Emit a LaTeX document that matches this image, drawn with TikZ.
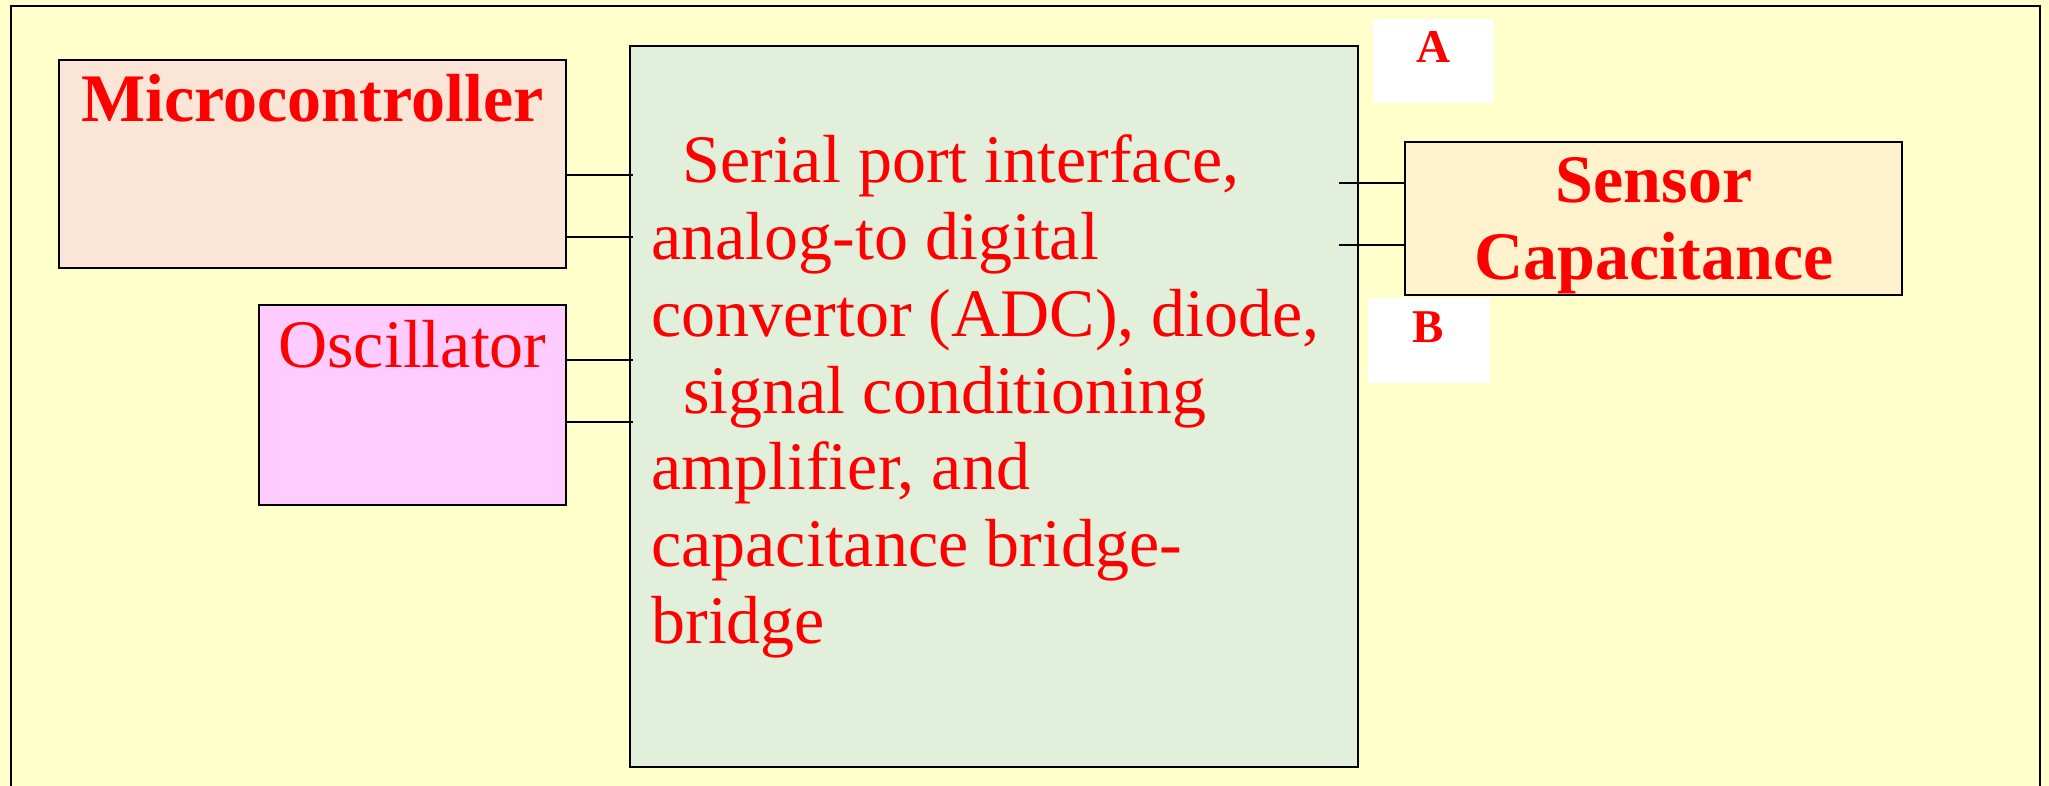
\documentclass[tikz,border=0pt]{standalone}
\usepackage{fontspec}
\setmainfont{Liberation Serif}
\definecolor{bgyellow}{HTML}{FFFFCC}
\definecolor{peach}{HTML}{FBE5D6}
\definecolor{pinkfill}{HTML}{FFCCFF}
\definecolor{greenfill}{HTML}{E2EFDA}
\definecolor{sensorfill}{HTML}{FFF2CC}
\definecolor{textred}{HTML}{FF0000}
\newcommand{\bigfont}{\fontsize{34}{38.35}\selectfont}
\newcommand{\labfont}{\fontsize{23.5}{28}\selectfont\bfseries}
\begin{document}
\begin{tikzpicture}[x=0.5pt,y=-0.5pt,
  blockbox/.style={draw=black,line width=1pt,rectangle,inner sep=0pt},
  labelbox/.style={fill=white,draw=none,rectangle,inner sep=0pt},
  bigtext/.style={text=textred,font=\bigfont,inner sep=0pt},
  boldtext/.style={text=textred,font=\bigfont\bfseries,inner sep=0pt},
  labtext/.style={text=textred,font=\labfont,inner sep=0pt},
  wire/.style={draw=black,line width=1pt}]
\useasboundingbox (0,0) rectangle (2049,786);
\fill[bgyellow] (0,0) rectangle (2049,786);
\draw[line width=1pt] (10.5,786) -- (10.5,6.5) -- (2040,6.5) -- (2040,786);
% blocks
\node[blockbox,fill=peach,minimum width=253.5pt,minimum height=104pt] (micro) at (312.5,164) {};
\node[blockbox,fill=pinkfill,minimum width=153.5pt,minimum height=100pt] (osc) at (412.5,405) {};
\node[blockbox,fill=greenfill,minimum width=364pt,minimum height=360pt] (main) at (994,406.5) {};
\node[blockbox,fill=sensorfill,minimum width=248.5pt,minimum height=76.5pt] (sensor) at (1653.5,218.5) {};
\node[labelbox,minimum width=60.5pt,minimum height=42pt] (aBox) at (1433.5,61) {};
\node[labelbox,minimum width=61pt,minimum height=42.5pt] (bBox) at (1429,340.5) {};
% texts
\node[boldtext,anchor=base] (microText) at (312.5,122) {Microcontroller};
\node[bigtext,anchor=base] (oscText) at (412.5,367) {Oscillator};
\node[boldtext,anchor=base] (sensorText1) at (1654,203) {Sensor};
\node[boldtext,anchor=base] (sensorText2) at (1654,279) {Capacitance};
\node[labtext,anchor=base] (aText) at (1433.5,63) {A};
\node[labtext,anchor=base] (bText) at (1428.5,342) {B};
\node[bigtext,anchor=base west] (l1) at (682,183) {Serial port interface,};
\node[bigtext,anchor=base west] (l2) at (651,259.7) {analog-to digital};
\node[bigtext,anchor=base west] (l3) at (651,336.4) {convertor (ADC), diode,};
\node[bigtext,anchor=base west] (l4) at (683,413) {signal conditioning};
\node[bigtext,anchor=base west] (l5) at (651,489.8) {amplifier, and};
\node[bigtext,anchor=base west] (l6) at (651,566.5) {capacitance bridge-};
\node[bigtext,anchor=base west] (l7) at (651,643) {bridge};
% connectors
\draw[wire] (micro.east |- 0,175) -- ([xshift=2pt]main.west |- 0,175);
\draw[wire] (micro.east |- 0,237) -- ([xshift=2pt]main.west |- 0,237);
\draw[wire] (osc.east |- 0,360) -- ([xshift=2pt]main.west |- 0,360);
\draw[wire] (osc.east |- 0,422) -- ([xshift=2pt]main.west |- 0,422);
\draw[wire] ([xshift=-10pt]main.east |- 0,183) -- (sensor.west |- 0,183);
\draw[wire] ([xshift=-10pt]main.east |- 0,245) -- (sensor.west |- 0,245);
\end{tikzpicture}
\end{document}
